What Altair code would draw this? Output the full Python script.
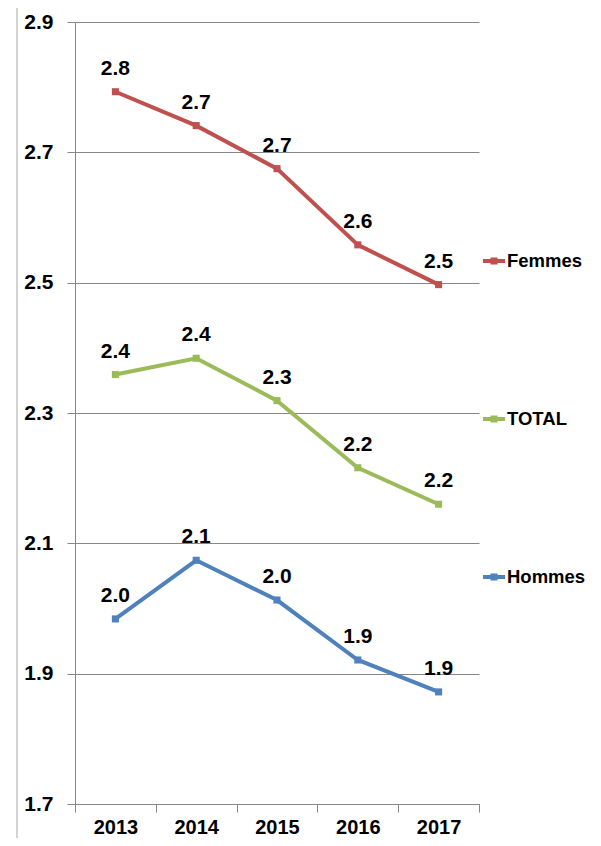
import altair as alt
import pandas as pd

years = ["2013", "2014", "2015", "2016", "2017"]
femmes = [2.793, 2.741, 2.675, 2.558, 2.497]
total = [2.359, 2.384, 2.319, 2.216, 2.160]
hommes = [1.984, 2.074, 2.013, 1.921, 1.872]
series = ["Femmes", "TOTAL", "Hommes"]
colors = ["#C0504D", "#9BBB59", "#4F81BD"]
y_ticks = [1.7, 1.9, 2.1, 2.3, 2.5, 2.7, 2.9]

rows = []
for name, vals in zip(series, [femmes, total, hommes]):
    for yr, v in zip(years, vals):
        rows.append({"year": yr, "value": v, "serie": name})
df = pd.DataFrame(rows)

FONT = "Liberation Sans Narrow, Arial Narrow, Liberation Sans, Arial"
GRAY = "#868686"
SYMBOL = "M-1,-0.18H1V0.18H-1Z M-0.32,-0.32H0.32V0.32H-0.32Z"

x_enc = alt.X(
    "year:O",
    scale=alt.Scale(type="band", paddingInner=0, paddingOuter=0),
    axis=alt.Axis(title=None, labelAngle=0, tickBand="extent", tickSize=8,
                  tickColor=GRAY, domainColor=GRAY, labelPadding=5,
                  labelFont=FONT, labelFontSize=20, labelFontWeight="bold",
                  labelColor="black", grid=False),
)
y_enc = alt.Y(
    "value:Q",
    scale=alt.Scale(domain=[1.7, 2.9], nice=False, zero=False),
    axis=alt.Axis(title=None, values=y_ticks, format=".1f", tickSize=8,
                  tickColor=GRAY, domainColor=GRAY, gridColor=GRAY,
                  labelPadding=14, labelFont=FONT, labelFontSize=21,
                  labelFontWeight="bold", labelColor="black"),
)
color_enc = alt.Color(
    "serie:N",
    scale=alt.Scale(domain=series, range=colors),
    legend=alt.Legend(title=None, orient="none", legendX=408, legendY=228,
                      symbolType=SYMBOL, symbolSize=484, symbolStrokeWidth=0,
                      labelFont=FONT, labelFontSize=18.5, labelFontWeight="bold",
                      labelColor="black", rowPadding=137, labelOffset=2,
                      padding=0),
)

base = alt.Chart(df).encode(x=x_enc, y=y_enc)
lines = base.mark_line(strokeWidth=4).encode(color=color_enc)
points = base.mark_point(shape="square", filled=True, size=50, opacity=1).encode(color=color_enc)
labels = base.mark_text(dy=-23, font=FONT, fontSize=21, fontWeight="bold", color="black").encode(
    text=alt.Text("value:Q", format=".1f"))

frame = alt.Chart(pd.DataFrame({"a": [0]})).mark_rule(color="#A6A6A6", strokeWidth=1).encode(
    x=alt.value(-58), y=alt.value(-14), y2=alt.value(816))

chart = alt.layer(frame, lines, points, labels).properties(
    width=404, height=782,
    autosize=alt.AutoSizeParams(type="none"),
    padding={"left": 67, "top": 14, "right": 110, "bottom": 34},
).configure_view(strokeWidth=0)

chart.save("out.html", embed_options={"renderer": "svg", "actions": False})
